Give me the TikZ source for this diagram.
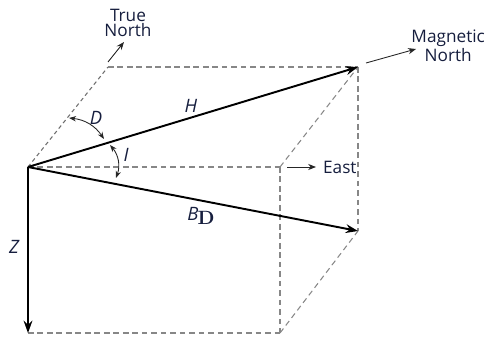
\documentclass[tikz,border=0pt]{standalone}
\usepackage[no-math]{fontspec}
\setmainfont{Open Sans}
\usetikzlibrary{arrows.meta}
\definecolor{labelnavy}{RGB}{22,30,62}
\definecolor{guidegray}{RGB}{135,135,135}

\begin{document}
\begin{tikzpicture}[
  x=0.02cm, y=-0.02cm,
  vec/.style={-{Stealth[length=7pt,width=5pt]}, line width=1.1pt, black},
  guide/.style={dash pattern=on 3.2pt off 2.2pt, guidegray, line width=0.6pt},
  fineguide/.style={dash pattern=on 2.2pt off 1.8pt, guidegray!80!black, line width=0.6pt},
  pointer/.style={-{Stealth[length=4.5pt,width=3.5pt]}, line width=0.5pt, black!85},
  angarc/.style={{Stealth[length=4pt,width=3pt]}-{Stealth[length=4pt,width=3pt]},
    line width=0.5pt, black!85},
  lbl/.style={font=\fontsize{9.8}{8.5}\selectfont, text=labelnavy, inner sep=1pt,
    align=center},
  sym/.style={font=\fontsize{10.5}{11}\selectfont\itshape, text=labelnavy,
    inner sep=1pt},
]
  \useasboundingbox (0,0) rectangle (489,337);

  % Corners of the box
  \coordinate (O) at (28,167);
  \coordinate (tn) at (108,67);
  \coordinate (Htip) at (358,67);
  \coordinate (ea) at (280,167);
  \coordinate (Btip) at (358,231);
  \coordinate (Ztip) at (28,333);
  \coordinate (bot) at (280,333);

  % Dashed box
  \draw[fineguide] (O) -- (tn);
  \draw[guide] (tn) -- (Htip);
  \draw[guide] (O) -- (ea);
  \draw[guide] (ea) -- (Htip);
  \draw[guide] (Htip) -- (Btip);
  \draw[guide] (ea) -- (bot);
  \draw[guide] (Ztip) -- (bot);
  \draw[guide] (bot) -- (Btip);

  % Field vectors
  \draw[vec] (O) -- (Htip);
  \draw[vec] (O) -- (Btip);
  \draw[vec] (O) -- (Ztip);

  % Direction pointers
  \coordinate (tn0) at (108,62);
  \coordinate (tn1) at (124,42);
  \coordinate (mn0) at (366,63);
  \coordinate (mn1) at (416,49);
  \coordinate (e0) at (287,167);
  \coordinate (e1) at (316,167);
  \draw[pointer] (tn0) -- (tn1);
  \draw[pointer] (mn0) -- (mn1);
  \draw[pointer] (e0) -- (e1);

  % Angles
  \coordinate (d0) at (69,118);
  \coordinate (d1) at (104,139);
  \coordinate (i0) at (110,145);
  \coordinate (i1) at (116,178);
  \draw[angarc] (d0) to[bend left=25] (d1);
  \draw[angarc] (i0) to[bend left=30] (i1);

  % Labels
  \node[lbl] (truenorth) at (128,23) {True\\North};
  \node[lbl, anchor=north east] (magnorth) at (487,28) {Magnetic\\North};
  \node[lbl, anchor=west] (east) at (321,167) {East};
  \node[sym] (D) at (96,118) {D};
  \node[sym] (H) at (191,106) {H};
  \node[sym] (I) at (126,155) {I};
  \node[sym] (Z) at (14,247) {Z};
  \node[sym] (BD) at (201,216)
    {B\kern-0.5pt\raisebox{-0.45ex}{\upshape$\mathbf{D}$}};
\end{tikzpicture}
\end{document}
